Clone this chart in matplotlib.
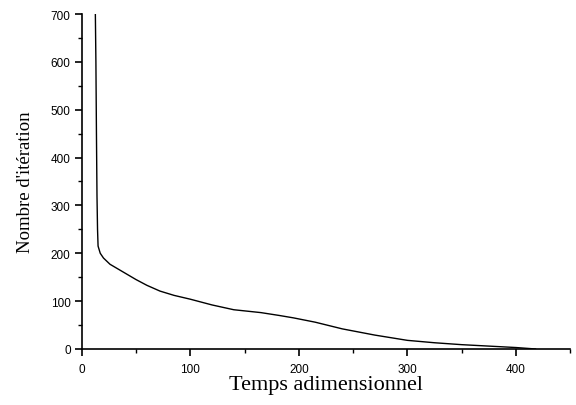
import matplotlib
matplotlib.use('Agg')
import matplotlib.pyplot as plt
from matplotlib.ticker import MultipleLocator

# curve
temps = [12.5, 13, 13.5, 14, 14.5, 15, 17, 20, 26, 35, 44, 50, 60, 72, 85,
         100, 120, 140, 165, 182, 195, 215, 240, 270, 300, 325, 350, 375,
         400, 418]
iterations = [700, 600, 450, 320, 250, 215, 200, 190, 177, 165, 153, 145, 133,
              121, 112, 104, 92, 82, 76, 70, 65, 56, 42, 29, 18, 13, 9, 6,
              3, 0]

fig = plt.figure(figsize=(5.76, 4.06), dpi=100)
ax = fig.add_axes([0.142, 0.138, 0.848, 0.825])

ax.plot(temps, iterations, color='black', linewidth=1.0)

ax.set_xlim(0, 450)
ax.set_ylim(0, 700)
ax.xaxis.set_major_locator(MultipleLocator(100))
ax.xaxis.set_minor_locator(MultipleLocator(50))
ax.yaxis.set_major_locator(MultipleLocator(100))
ax.yaxis.set_minor_locator(MultipleLocator(50))

for s in ['top', 'right']:
    ax.spines[s].set_visible(False)
for s in ['left', 'bottom']:
    ax.spines[s].set_linewidth(1.2)

ax.tick_params(which='major', direction='out', length=5, width=1.2,
               labelsize=8.5, pad=3)
ax.tick_params(axis='x', which='major', pad=5)
ax.tick_params(which='minor', direction='out', length=3, width=1.0)
for lbl in ax.get_xticklabels() + ax.get_yticklabels():
    lbl.set_family('Liberation Sans')

ax.set_xlabel('Temps adimensionnel', family='Liberation Serif', fontsize=16,
              labelpad=0)
ax.set_ylabel("Nombre d'itération", family='Liberation Serif', fontsize=13.5,
              labelpad=12)

fig.savefig('out.png', dpi=100)
